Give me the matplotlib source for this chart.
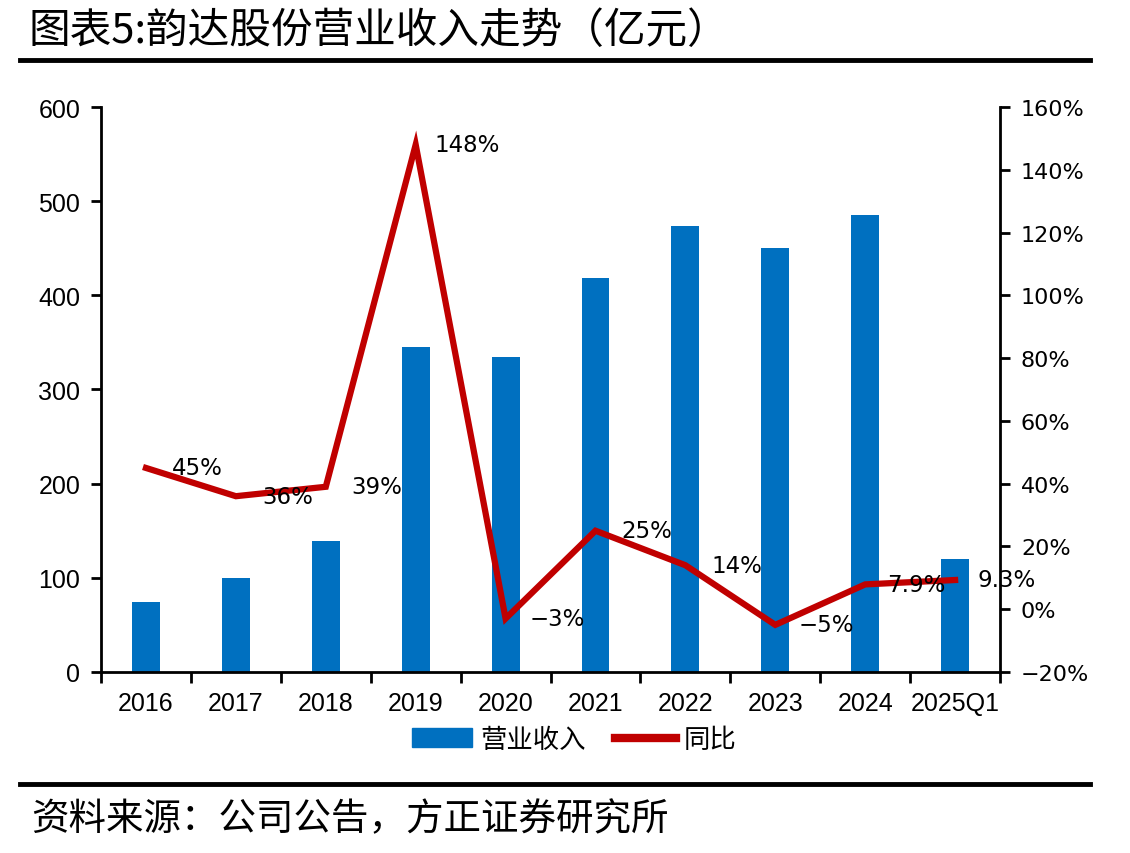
import matplotlib
matplotlib.use("Agg")
import matplotlib.pyplot as plt
from matplotlib.lines import Line2D
from matplotlib.patches import Patch
from matplotlib import font_manager

categories = ["2016", "2017", "2018", "2019", "2020", "2021", "2022", "2023", "2024", "2025Q1"]
revenue = [74, 100, 139, 345, 335, 418, 474, 450, 485, 120]
yoy = [45, 36, 39, 148, -3, 25, 14, -5, 7.9, 9.3]
yoy_labels = ["45%", "36%", "39%", "148%", "\u22123%", "25%", "14%", "\u22125%", "7.9%", "9.3%"]
left_ticks = [0, 100, 200, 300, 400, 500, 600]
right_ticks = [-20, 0, 20, 40, 60, 80, 100, 120, 140, 160]

title = "图表5:韵达股份营业收入走势（亿元）"
source = "资料来源：公司公告，方正证券研究所"

CJK = ["Noto Sans CJK SC", "DejaVu Sans"]
names = {f.name for f in font_manager.fontManager.ttflist}
narrow = "Liberation Sans Narrow" if "Liberation Sans Narrow" in names else "Liberation Sans"

BLUE = "#0070C0"
RED = "#C00000"

fig = plt.figure(figsize=(11.3, 8.54), dpi=100)
ax = fig.add_axes([0.0894, 0.212, 0.7956, 0.6615])
ax2 = ax.twinx()

x = list(range(len(categories)))
ax.bar(x, revenue, width=0.31, color=BLUE, zorder=2)
ax.set_xlim(-0.5, len(categories) - 0.5)
ax.set_ylim(0, 600)
ax.set_yticks(left_ticks)
ax.set_yticklabels([str(t) for t in left_ticks], fontsize=18, family="Liberation Sans")
ax.tick_params(axis="y", direction="out", length=7, width=2, pad=8)

ax.set_xticks([i + 0.5 for i in range(-1, len(categories))], minor=False)
ax.set_xticklabels([])
ax.tick_params(axis="x", which="major", direction="out", length=8, width=2)
ax.set_xticks(x, minor=True)
ax.set_xticklabels(categories, minor=True, fontsize=18, family=narrow)
ax.tick_params(axis="x", which="minor", length=0, pad=14)

ax2.plot(x, yoy, color=RED, lw=4.5, solid_joinstyle="miter", zorder=3)
ax2.set_ylim(-20, 160)
ax2.set_yticks(right_ticks)
ax2.set_yticklabels([("\u2212" if t < 0 else "") + f"{abs(t)}%" for t in right_ticks], fontsize=16)
ax2.tick_params(axis="y", direction="out", length=7, width=2, pad=8)

for i, (v, lab) in enumerate(zip(yoy, yoy_labels)):
    ax2.annotate(lab, (i, v), xytext=(37, 0), textcoords="offset points",
                 ha="center", va="center", fontsize=16.5, family="DejaVu Sans", zorder=4)

for a in (ax, ax2):
    a.spines["top"].set_visible(False)
    for s in ("left", "right", "bottom"):
        a.spines[s].set_linewidth(2)
ax.spines["right"].set_visible(False)
ax2.spines["left"].set_visible(False)
ax2.spines["bottom"].set_visible(False)

handles = [Patch(facecolor=BLUE, edgecolor=BLUE), Line2D([0], [0], color=RED, lw=6)]
leg = fig.legend(handles, ["营业收入", "同比"], loc="center", bbox_to_anchor=(0.508, 0.133),
                 ncol=2, frameon=False, prop={"family": CJK, "size": 19},
                 handlelength=2.3, handleheight=0.7, columnspacing=1.1, handletextpad=0.3)

fig.text(0.025, 0.963, title, fontsize=30, family=CJK, ha="left", va="center")
fig.add_artist(Line2D([0.018, 0.965], [0.929, 0.929], color="black", lw=3.5))
fig.add_artist(Line2D([0.018, 0.965], [0.081, 0.081], color="black", lw=3.5))
fig.text(0.028, 0.04, source, fontsize=27, family=CJK, ha="left", va="center", style="italic")

fig.savefig("out.png", dpi=100)
